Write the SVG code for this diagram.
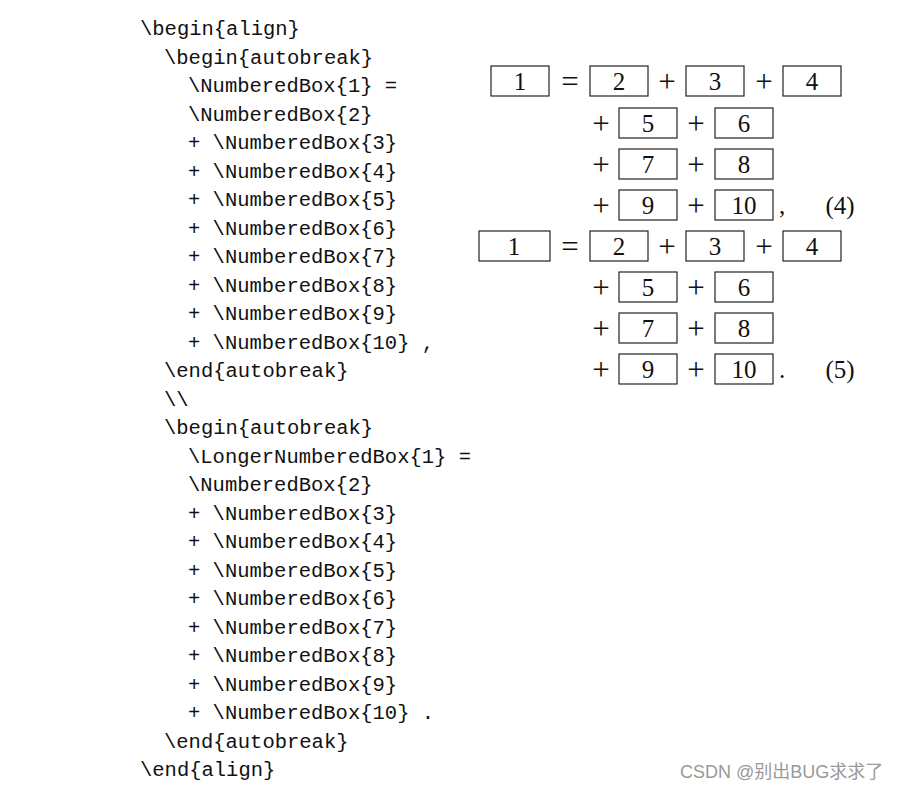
<svg xmlns="http://www.w3.org/2000/svg" width="901" height="791" viewBox="0 0 901 791">
<style>
.code{font-family:"Liberation Mono","DejaVu Sans Mono",monospace;font-size:20.5px;fill:#111;white-space:pre}
.m{font-family:"Liberation Serif","DejaVu Serif",serif;font-size:25px;fill:#111;text-anchor:middle}
.op{font-family:"Liberation Serif","DejaVu Serif",serif;font-size:31px;fill:#111;text-anchor:middle}
.bx{fill:none;stroke:#222;stroke-width:1.2}
.wm{font-family:"Liberation Sans","Noto Sans CJK SC",sans-serif;font-size:18px;fill:#9a9a9a}
</style>
<rect width="901" height="791" fill="#fff"/>
<g id="code">
<text class="code" x="140" y="35">\begin{align}</text>
<text class="code" x="164" y="63.5">\begin{autobreak}</text>
<text class="code" x="188" y="92">\NumberedBox{1} =</text>
<text class="code" x="188" y="120.5">\NumberedBox{2}</text>
<text class="code" x="188" y="149">+ \NumberedBox{3}</text>
<text class="code" x="188" y="177.5">+ \NumberedBox{4}</text>
<text class="code" x="188" y="206">+ \NumberedBox{5}</text>
<text class="code" x="188" y="234.5">+ \NumberedBox{6}</text>
<text class="code" x="188" y="263">+ \NumberedBox{7}</text>
<text class="code" x="188" y="291.5">+ \NumberedBox{8}</text>
<text class="code" x="188" y="320">+ \NumberedBox{9}</text>
<text class="code" x="188" y="348.5">+ \NumberedBox{10} ,</text>
<text class="code" x="164" y="377">\end{autobreak}</text>
<text class="code" x="164" y="405.5">\\</text>
<text class="code" x="164" y="434">\begin{autobreak}</text>
<text class="code" x="188" y="462.5">\LongerNumberedBox{1} =</text>
<text class="code" x="188" y="491">\NumberedBox{2}</text>
<text class="code" x="188" y="519.5">+ \NumberedBox{3}</text>
<text class="code" x="188" y="548">+ \NumberedBox{4}</text>
<text class="code" x="188" y="576.5">+ \NumberedBox{5}</text>
<text class="code" x="188" y="605">+ \NumberedBox{6}</text>
<text class="code" x="188" y="633.5">+ \NumberedBox{7}</text>
<text class="code" x="188" y="662">+ \NumberedBox{8}</text>
<text class="code" x="188" y="690.5">+ \NumberedBox{9}</text>
<text class="code" x="188" y="719">+ \NumberedBox{10} .</text>
<text class="code" x="164" y="747.5">\end{autobreak}</text>
<text class="code" x="140" y="776">\end{align}</text>
</g>
<g id="eq4">
<g id="e4b1"><rect class="bx" x="491" y="66" width="58" height="30"/><text class="m" x="520" y="90">1</text></g>
<text class="op" x="570" y="92">=</text>
<g id="e4b2"><rect class="bx" x="590" y="66" width="58" height="30"/><text class="m" x="619" y="90">2</text></g>
<text class="op" x="667" y="92">+</text>
<g id="e4b3"><rect class="bx" x="686" y="66" width="58" height="30"/><text class="m" x="715" y="90">3</text></g>
<text class="op" x="764" y="92">+</text>
<g id="e4b4"><rect class="bx" x="783" y="66" width="58" height="30"/><text class="m" x="812" y="90">4</text></g>
<text class="op" x="601" y="134">+</text>
<g id="e4b5"><rect class="bx" x="619" y="108" width="58" height="30"/><text class="m" x="648" y="132">5</text></g>
<text class="op" x="696" y="134">+</text>
<g id="e4b6"><rect class="bx" x="715" y="108" width="58" height="30"/><text class="m" x="744" y="132">6</text></g>
<text class="op" x="601" y="175">+</text>
<g id="e4b7"><rect class="bx" x="619" y="149" width="58" height="30"/><text class="m" x="648" y="173">7</text></g>
<text class="op" x="696" y="175">+</text>
<g id="e4b8"><rect class="bx" x="715" y="149" width="58" height="30"/><text class="m" x="744" y="173">8</text></g>
<text class="op" x="601" y="216">+</text>
<g id="e4b9"><rect class="bx" x="619" y="190" width="58" height="30"/><text class="m" x="648" y="214">9</text></g>
<text class="op" x="696" y="216">+</text>
<g id="e4b10"><rect class="bx" x="715" y="190" width="58" height="30"/><text class="m" x="744" y="214">10</text></g>
<text class="m" x="782" y="214">,</text>
<text class="m" x="840" y="214">(4)</text>
</g>
<g id="eq5">
<g id="e5b1"><rect class="bx" x="479" y="231" width="71" height="30"/><text class="m" x="514" y="255">1</text></g>
<text class="op" x="570" y="257">=</text>
<g id="e5b2"><rect class="bx" x="590" y="231" width="58" height="30"/><text class="m" x="619" y="255">2</text></g>
<text class="op" x="667" y="257">+</text>
<g id="e5b3"><rect class="bx" x="686" y="231" width="58" height="30"/><text class="m" x="715" y="255">3</text></g>
<text class="op" x="764" y="257">+</text>
<g id="e5b4"><rect class="bx" x="783" y="231" width="58" height="30"/><text class="m" x="812" y="255">4</text></g>
<text class="op" x="601" y="298">+</text>
<g id="e5b5"><rect class="bx" x="619" y="272" width="58" height="30"/><text class="m" x="648" y="296">5</text></g>
<text class="op" x="696" y="298">+</text>
<g id="e5b6"><rect class="bx" x="715" y="272" width="58" height="30"/><text class="m" x="744" y="296">6</text></g>
<text class="op" x="601" y="339">+</text>
<g id="e5b7"><rect class="bx" x="619" y="313" width="58" height="30"/><text class="m" x="648" y="337">7</text></g>
<text class="op" x="696" y="339">+</text>
<g id="e5b8"><rect class="bx" x="715" y="313" width="58" height="30"/><text class="m" x="744" y="337">8</text></g>
<text class="op" x="601" y="380">+</text>
<g id="e5b9"><rect class="bx" x="619" y="354" width="58" height="30"/><text class="m" x="648" y="378">9</text></g>
<text class="op" x="696" y="380">+</text>
<g id="e5b10"><rect class="bx" x="715" y="354" width="58" height="30"/><text class="m" x="744" y="378">10</text></g>
<text class="m" x="782" y="378">.</text>
<text class="m" x="840" y="378">(5)</text>
</g>
<text class="wm" x="680" y="778">CSDN @别出BUG求求了</text>
</svg>
